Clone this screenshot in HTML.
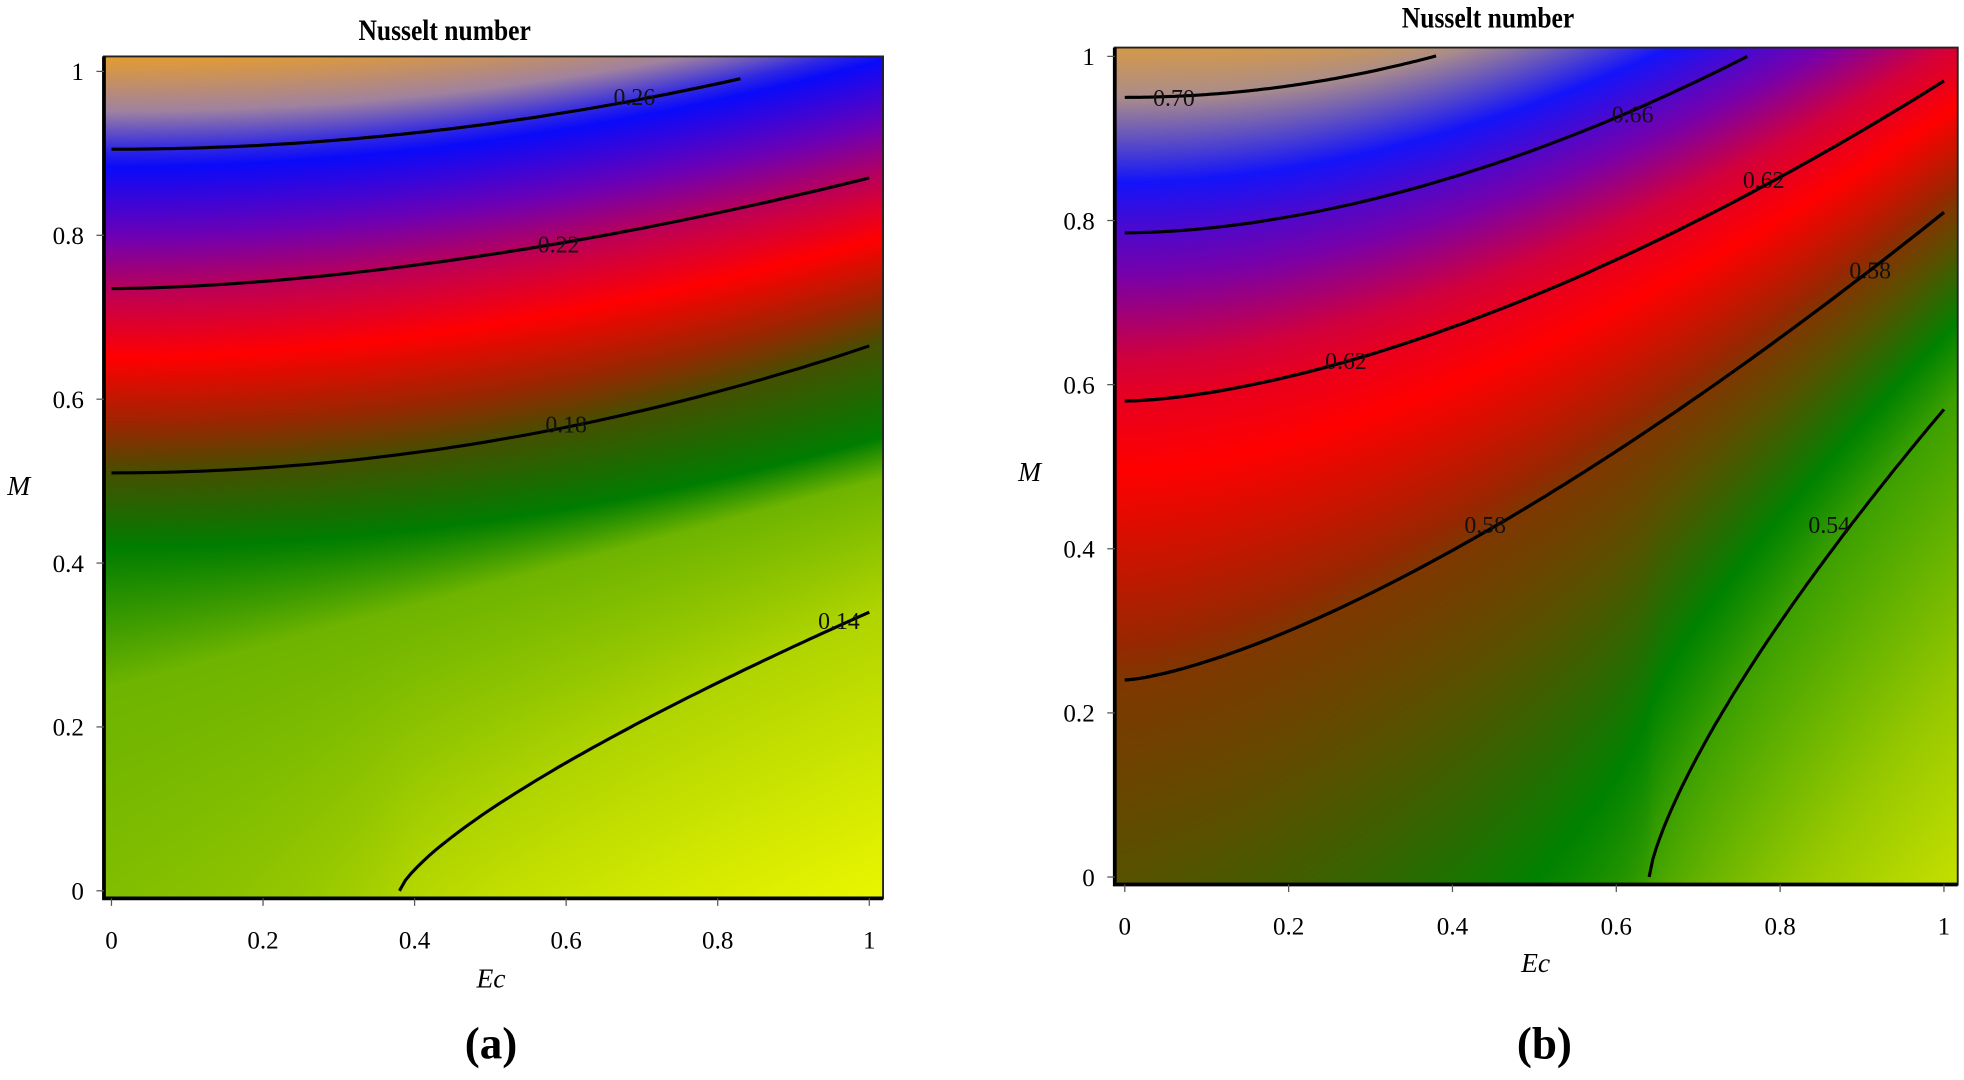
<!DOCTYPE html>
<html><head><meta charset="utf-8"><style>
html,body{margin:0;padding:0;background:#fff;width:1964px;height:1080px;overflow:hidden}
canvas{position:absolute}
svg{position:absolute;left:0;top:0}
</style></head><body>
<canvas id="ca"></canvas><canvas id="cb"></canvas>
<svg id="sv" width="1964" height="1080" viewBox="0 0 1568 862" preserveAspectRatio="none" font-family="'Liberation Serif',serif">
<g id="g"></g>
<text x="355" y="32" font-size="24" font-weight="bold" text-anchor="middle" transform="translate(355 0) scale(0.85 1) translate(-355 0)">Nusselt number</text>
<text x="1188" y="22" font-size="24" font-weight="bold" text-anchor="middle" transform="translate(1188 0) scale(0.85 1) translate(-1188 0)">Nusselt number</text>
<text x="392" y="845" font-size="36" font-weight="bold" text-anchor="middle">(a)</text>
<text x="1233" y="845" font-size="36" font-weight="bold" text-anchor="middle">(b)</text>
<text x="392" y="788" font-size="22" font-style="italic" text-anchor="middle">Ec</text>
<text x="1226" y="776" font-size="22" font-style="italic" text-anchor="middle">Ec</text>
<text x="15" y="395" font-size="22" font-style="italic" text-anchor="middle">M</text>
<text x="822" y="384" font-size="22" font-style="italic" text-anchor="middle">M</text>
</svg>
<script>
const S=1964/1568;
function lerp(a,b,t){return a+(b-a)*t}
function cmap(stops,v){
  if(v>=stops[0][0])return stops[0][1];
  for(let i=0;i<stops.length-1;i++){const a=stops[i],b=stops[i+1];
    if(v<=a[0]&&v>=b[0]){const t=(a[0]-v)/(a[0]-b[0]);return [0,1,2].map(k=>lerp(a[1][k],b[1][k],t));}}
  return stops[stops.length-1][1];
}
function sp(u,p){return Math.sign(u)*Math.pow(Math.abs(u),p)}
function l14(E){return E>=0.38?0.34*Math.pow((E-0.38)/0.62,0.75):-0.6*(0.38-E)/0.38}
const A={x0:89,x1:694,y0:711,y1:57,fx:83,fy:45,fw:622,fh:672,
 levels:[[0.30,E=>1.03+0.1*E*E],[0.26,E=>0.905+0.125*E*E],[0.22,E=>0.735+0.135*Math.pow(Math.max(E,0),1.7)],
  [0.18,E=>0.51+0.155*E*E],[0.175,E=>0.42+0.13*E*E],[0.16,E=>0.25+0.25*E],[0.14,l14],[0.10,E=>l14(E)-0.6]],
 stops:[[0.30,[240,160,30]],[0.275,[160,130,160]],[0.255,[10,10,250]],[0.235,[110,0,180]],[0.215,[210,0,60]],[0.205,[255,0,0]],
  [0.19,[150,40,0]],[0.18,[70,80,0]],[0.175,[0,125,0]],[0.16,[110,180,0]],[0.14,[175,212,0]],[0.11,[250,255,0]]],
 lines:[[0.26,0,0.83,0.69,0.97,"0.26"],[0.22,0,1,0.59,0.79,"0.22"],[0.18,0,1,0.6,0.57,"0.18"],[0.14,0.38,1,0.96,0.33,"0.14"]]};
const B={x0:898,x1:1552,y0:700,y1:45,fx:890,fy:38,fw:673,fh:668,
 levels:[[0.74,E=>1.05],[0.70,E=>0.95+0.35*E*E],[0.66,E=>0.785+0.215*Math.pow(Math.max(E,0)/0.76,1.8)],
  [0.62,E=>0.58+0.39*Math.pow(Math.max(E,0),1.6)],[0.58,E=>0.24+0.57*Math.pow(Math.max(E,0),1.4)],
  [0.54,E=>0.57*sp((E-0.64)/0.36,0.75)],[0.50,E=>0.57*sp((E-0.64)/0.36,0.75)-0.7]],
 stops:[[0.74,[240,160,30]],[0.70,[170,140,140]],[0.675,[20,20,250]],[0.65,[120,0,170]],[0.63,[210,0,60]],[0.61,[255,0,0]],
  [0.585,[150,40,0]],[0.572,[90,80,0]],[0.555,[0,130,0]],[0.54,[60,160,0]],[0.52,[150,200,0]],[0.49,[250,250,0]]],
 lines:[[0.70,0,0.38,0.06,0.95,"0.70"],[0.66,0,0.76,0.62,0.93,"0.66"],[0.62,0,1,0.78,0.85,"0.62"],[0.62,0,1,0.27,0.63,"0.62"],
  [0.58,0,1,0.91,0.74,"0.58"],[0.58,0,1,0.44,0.43,"0.58"],[0.54,0.64,1,0.86,0.43,"0.54"]]};
function val(P,E,M){
  const ms=P.levels.map(l=>l[1](E));
  if(M>=ms[0])return P.levels[0][0];
  for(let i=0;i<ms.length-1;i++){if(M<=ms[i]&&M>=ms[i+1]){const t=(ms[i]-M)/(ms[i]-ms[i+1]);return lerp(P.levels[i][0],P.levels[i+1][0],t);}}
  return P.levels[ms.length-1][0];
}
function draw(id,P){
  const c=document.getElementById(id);
  const L=Math.round(P.fx*S),T=Math.round(P.fy*S),W=Math.round(P.fw*S),H=Math.round(P.fh*S);
  c.style.left=L+'px';c.style.top=T+'px';c.width=W;c.height=H;
  const ctx=c.getContext('2d'),im=ctx.createImageData(W,H);
  for(let y=0;y<H;y++){const dy=(T+y)/S;let M=(P.y0-dy)/(P.y0-P.y1);M=Math.min(1.02,Math.max(-0.02,M));
    for(let x=0;x<W;x++){const dx=(L+x)/S;let E=(dx-P.x0)/(P.x1-P.x0);E=Math.min(1.02,Math.max(-0.02,E));
      const col=cmap(P.stops,val(P,E,M));const o=(y*W+x)*4;
      im.data[o]=col[0];im.data[o+1]=col[1];im.data[o+2]=col[2];im.data[o+3]=255;}}
  ctx.putImageData(im,0,0);
  const g=document.getElementById('g');let h='';
  const X=E=>P.x0+E*(P.x1-P.x0),Y=M=>P.y0-M*(P.y0-P.y1);
  P.lines.forEach(l=>{const f=P.levels.find(q=>q[0]===l[0])[1];let d='';
    for(let i=0;i<=80;i++){const E=l[1]+(l[2]-l[1])*i/80;d+=(i?'L':'M')+X(E).toFixed(1)+' '+Y(Math.max(0,f(E))).toFixed(1);}
    h+=`<path d="${d}" fill="none" stroke="#000" stroke-width="2.5"/>`;
    h+=`<text x="${X(l[3])}" y="${Y(l[4])+7}" font-size="19" text-anchor="middle" fill="#111">${l[5]}</text>`;});
  h+=`<path d="M${P.fx} ${P.fy}H${P.fx+P.fw}V${P.fy+P.fh}H${P.fx}Z" fill="none" stroke="#222" stroke-width="1.5"/>`;
  h+=`<path d="M${P.fx} ${P.fy}V${P.fy+P.fh}H${P.fx+P.fw}" fill="none" stroke="#000" stroke-width="3"/>`;
  const tl=['0','0.2','0.4','0.6','0.8','1'];
  tl.forEach((t,i)=>{const v=i/5;
    h+=`<text x="${X(v)}" y="${P.fy+P.fh+40}" font-size="20" text-anchor="middle">${t}</text>`;
    h+=`<text x="${P.fx-16}" y="${Y(v)+7}" font-size="20" text-anchor="end">${t}</text>`;
    h+=`<line x1="${X(v)}" y1="${P.fy+P.fh}" x2="${X(v)}" y2="${P.fy+P.fh+6}" stroke="#555"/>`;
    h+=`<line x1="${P.fx}" y1="${Y(v)}" x2="${P.fx-6}" y2="${Y(v)}" stroke="#555"/>`;});
  g.innerHTML+=h;
}
draw('ca',A);draw('cb',B);
</script>
</body></html>
